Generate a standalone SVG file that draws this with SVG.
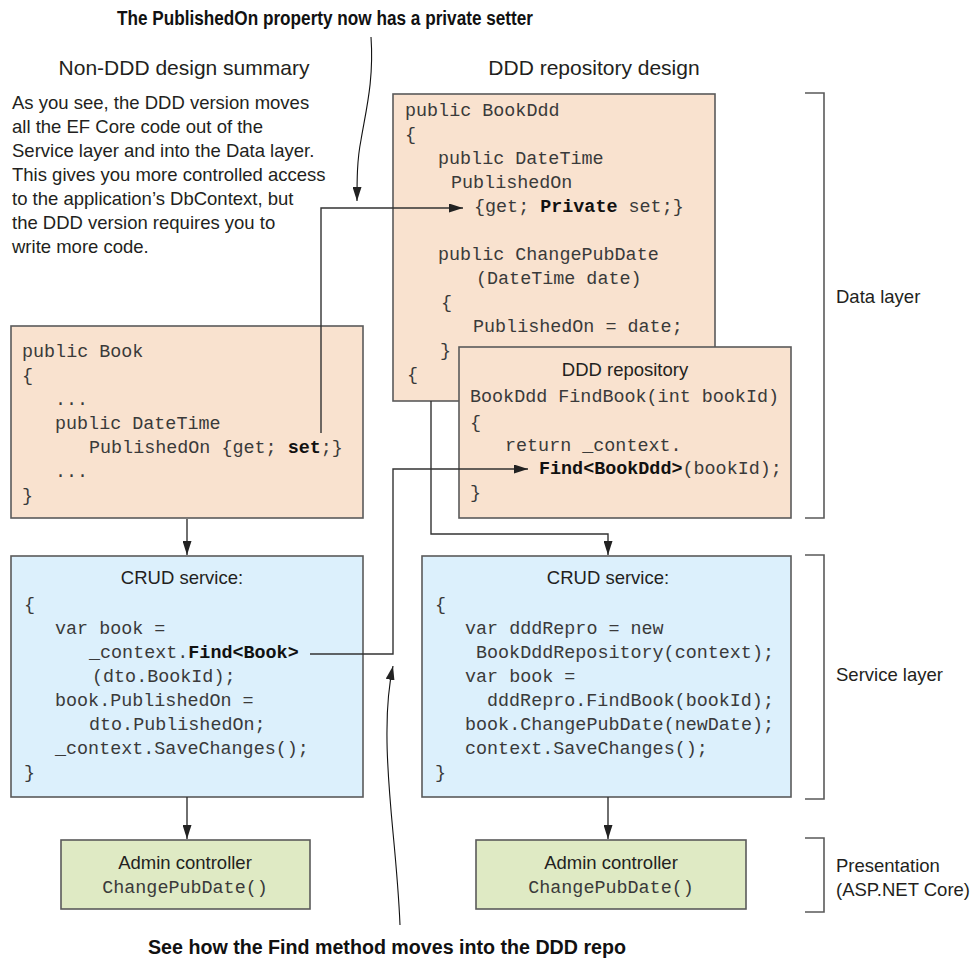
<svg xmlns="http://www.w3.org/2000/svg" width="977" height="960" viewBox="0 0 977 960">
<style>
.sans{font-family:"Liberation Sans",Arial,sans-serif;font-size:18.5px;fill:#231f20}
.head{font-family:"Liberation Sans",Arial,sans-serif;font-size:21px;fill:#231f20}
.note{font-family:"Liberation Sans",Arial,sans-serif;font-size:20px;font-weight:bold;fill:#111}
.mono{font-family:"Liberation Mono","Courier New",monospace;font-size:18.4px;fill:#3a3a3a}
.b{font-weight:bold;fill:#111}
.peach{fill:#f9e2cf;stroke:#5a5a5a;stroke-width:1.6}
.blue{fill:#dcf0fc;stroke:#5a5a5a;stroke-width:1.6}
.green{fill:#dfeac4;stroke:#5a5a5a;stroke-width:1.6}
.br{fill:none;stroke:#5a5a5a;stroke-width:1.6}
.conn{fill:none;stroke:#333;stroke-width:1.4}
.curve{fill:none;stroke:#111;stroke-width:1.1}
</style>
<defs>
<marker id="arr" markerUnits="userSpaceOnUse" markerWidth="14" markerHeight="9" refX="14" refY="4.5" orient="auto">
<path d="M0,0 L14,4.5 L0,9 z" fill="#222"/>
</marker>
</defs>

<text class="note" x="325" y="25" text-anchor="middle" textLength="416" lengthAdjust="spacingAndGlyphs">The PublishedOn property now has a private setter</text>
<text class="note" x="387" y="954" text-anchor="middle" textLength="478" lengthAdjust="spacingAndGlyphs">See how the Find method moves into the DDD repo</text>

<g id="summary">
<text class="head" x="184" y="75" text-anchor="middle">Non-DDD design summary</text>
<text class="sans" x="12" y="109">As you see, the DDD version moves</text>
<text class="sans" x="12" y="133">all the EF Core code out of the</text>
<text class="sans" x="12" y="157">Service layer and into the Data layer.</text>
<text class="sans" x="12" y="181">This gives you more controlled access</text>
<text class="sans" x="12" y="205">to the application’s DbContext, but</text>
<text class="sans" x="12" y="229">the DDD version requires you to</text>
<text class="sans" x="12" y="253">write more code.</text>
</g>

<text id="ddd-heading" class="head" x="594" y="75" text-anchor="middle">DDD repository design</text>

<g id="book">
<rect class="peach" x="11" y="326" width="352" height="192"/>
<text class="mono" x="22" y="357">public Book</text>
<text class="mono" x="22" y="381">{</text>
<text class="mono" x="55" y="405">...</text>
<text class="mono" x="55" y="429">public DateTime</text>
<text class="mono" x="89" y="453">PublishedOn {get; <tspan class="b">set</tspan>;}</text>
<text class="mono" x="55" y="477">...</text>
<text class="mono" x="22" y="501">}</text>
</g>

<g id="bookddd">
<rect class="peach" x="393" y="94" width="322" height="307"/>
<text class="mono" x="405" y="116">public BookDdd</text>
<text class="mono" x="405" y="140">{</text>
<text class="mono" x="438" y="164">public DateTime</text>
<text class="mono" x="451" y="188">PublishedOn</text>
<text class="mono" x="474" y="212">{get; <tspan class="b">Private</tspan> set;}</text>
<text class="mono" x="438" y="260">public ChangePubDate</text>
<text class="mono" x="476" y="284">(DateTime date)</text>
<text class="mono" x="441" y="308">{</text>
<text class="mono" x="473" y="332">PublishedOn = date;</text>
<text class="mono" x="440" y="356">}</text>
<text class="mono" x="407" y="380">{</text>
</g>

<g id="dddrepo">
<rect class="peach" x="459" y="347" width="332" height="171"/>
<text class="sans" x="625" y="376" text-anchor="middle">DDD repository</text>
<text class="mono" x="470" y="402">BookDdd FindBook(int bookId)</text>
<text class="mono" x="470" y="428">{</text>
<text class="mono" x="505" y="451">return _context.</text>
<text class="mono" x="539" y="474"><tspan class="b">Find&lt;BookDdd&gt;</tspan>(bookId);</text>
<text class="mono" x="470" y="498">}</text>
</g>

<g id="crud-left">
<rect class="blue" x="11" y="556" width="352" height="241"/>
<text class="sans" x="182" y="584" text-anchor="middle">CRUD service:</text>
<text class="mono" x="24" y="610">{</text>
<text class="mono" x="55" y="634">var book =</text>
<text class="mono" x="89" y="658">_context.<tspan class="b">Find&lt;Book&gt;</tspan></text>
<text class="mono" x="92" y="682">(dto.BookId);</text>
<text class="mono" x="55" y="706">book.PublishedOn =</text>
<text class="mono" x="89" y="730">dto.PublishedOn;</text>
<text class="mono" x="55" y="754">_context.SaveChanges();</text>
<text class="mono" x="24" y="778">}</text>
</g>

<g id="crud-right">
<rect class="blue" x="422" y="556" width="369" height="241"/>
<text class="sans" x="608" y="584" text-anchor="middle">CRUD service:</text>
<text class="mono" x="435" y="610">{</text>
<text class="mono" x="465" y="634">var dddRepro = new</text>
<text class="mono" x="476" y="658">BookDddRepository(context);</text>
<text class="mono" x="465" y="682">var book =</text>
<text class="mono" x="487" y="706">dddRepro.FindBook(bookId);</text>
<text class="mono" x="465" y="730">book.ChangePubDate(newDate);</text>
<text class="mono" x="465" y="754">context.SaveChanges();</text>
<text class="mono" x="435" y="778">}</text>
</g>

<g id="admin-left">
<rect class="green" x="61" y="840" width="249" height="69"/>
<text class="sans" x="185" y="869" text-anchor="middle">Admin controller</text>
<text class="mono" x="185" y="893" text-anchor="middle">ChangePubDate()</text>
</g>

<g id="admin-right">
<rect class="green" x="476" y="840" width="270" height="69"/>
<text class="sans" x="611" y="869" text-anchor="middle">Admin controller</text>
<text class="mono" x="611" y="893" text-anchor="middle">ChangePubDate()</text>
</g>

<g id="layer-data">
<path class="br" d="M805,93 H824 V518 H805"/>
<text class="sans" x="836" y="303">Data layer</text>
</g>
<g id="layer-service">
<path class="br" d="M805,555 H824 V799 H805"/>
<text class="sans" x="836" y="681">Service layer</text>
</g>
<g id="layer-presentation">
<path class="br" d="M805,838 H824 V912 H805"/>
<text class="sans" x="836" y="872">Presentation</text>
<text class="sans" x="836" y="896">(ASP.NET Core)</text>
</g>

<g id="connectors">
<path class="conn" d="M187,519 V555" marker-end="url(#arr)"/>
<path class="conn" d="M187,797 V839" marker-end="url(#arr)"/>
<path class="conn" d="M608,797 V839" marker-end="url(#arr)"/>
<path class="conn" d="M431,401 V534 H608 V555" marker-end="url(#arr)"/>
<path class="conn" d="M321,433 V208 H463" marker-end="url(#arr)"/>
<path class="conn" d="M310,654 H393 V469 H528" marker-end="url(#arr)"/>
<path class="curve" d="M371,37 C374,80 366,110 361,140 C357,160 357,180 357,201" marker-end="url(#arr)"/>
<path class="curve" d="M400,925 C397,850 386,790 387,730 C387,700 390,680 393,666" marker-end="url(#arr)"/>
</g>
</svg>
